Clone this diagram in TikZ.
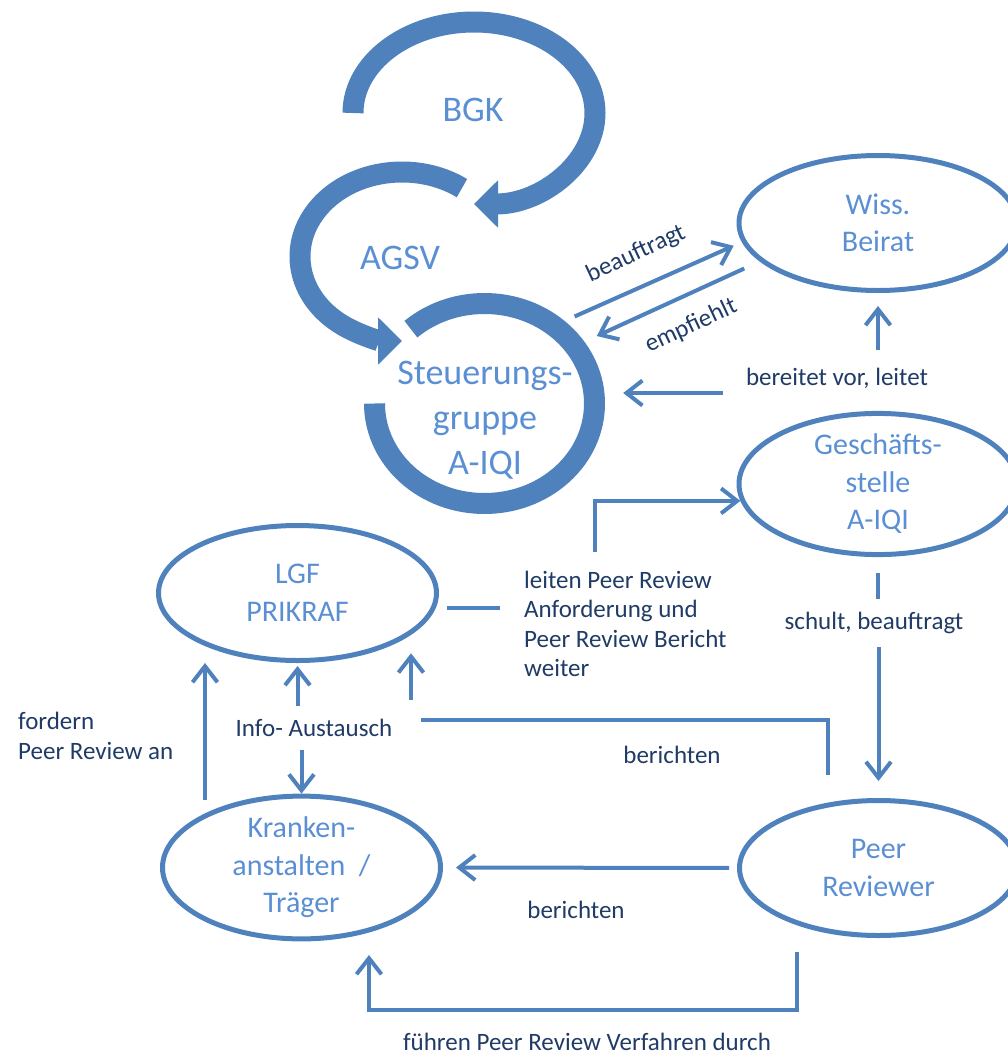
\documentclass[tikz,border=0pt]{standalone}
\usepackage{fontspec}
\setmainfont{Carlito}
\usetikzlibrary{shapes.geometric,arrows.meta}
\definecolor{ringblue}{HTML}{4F81BD}
\definecolor{nodeblue}{HTML}{5B8FD4}
\definecolor{labelblue}{HTML}{1F3B66}

\begin{document}
\begin{tikzpicture}
  [x=1pt,y=-1pt,
   every node/.style={inner sep=0pt},
   ring/.style={draw=ringblue,line width=21pt},
   ringhead/.style={ring,-{Triangle[length=24pt,width=46pt]}},
   big/.style={text=nodeblue,align=center,font=\fontsize{36}{45}\selectfont},
   part/.style={ellipse,draw=ringblue,line width=5pt,minimum width=278pt,minimum height=135pt,
     text=nodeblue,align=center,font=\fontsize{30}{37.5}\selectfont},
   lab/.style={text=labelblue,align=left,font=\fontsize{25}{29.5}\selectfont},
   gap/.style={lab,inner ysep=13pt},
   conn/.style={draw=ringblue,line width=4pt},
   arr/.style={conn,-{Straight Barb[length=16pt,width=25pt]}}]
  \useasboundingbox (0,0) rectangle (1008,1055);
  \clip (0,0) rectangle (1008,1055);

  \coordinate (bgkc) at (474,113);
  \coordinate (agsvc) at (402,256.5);
  \node[ellipse,minimum width=278pt,minimum height=228pt] (steuer) at (484.5,403.5) {};

  \draw[ringhead] (bgkc) ++(180:121 and 91) arc[start angle=180,end angle=450,x radius=121,y radius=91];
  \draw[ringhead] (agsvc) ++(-54:102 and 84.5) arc[start angle=-54,end angle=-270,x radius=102,y radius=84.5];
  \draw[ring] (steuer.center) ++(-132:110 and 100) arc[start angle=-132,end angle=180,x radius=110,y radius=100];

  \node[big] (bgk) at (473,110) {BGK};
  \node[big] (agsv) at (400,258) {AGSV};
  \node[big] (steuertext) at (485,420) {Steuerungs-\\gruppe\\A-IQI};

  \node[part] (wiss) at (878,223) {Wiss.\\Beirat};
  \node[part] (gesch) at (878,484) {Geschäfts-\\stelle\\A-IQI};
  \node[part] (lgf) at (297.5,593) {LGF\\PRIKRAF};
  \node[part] (kranken) at (301.5,867.5) {Kranken-\\anstalten\ \ /\\Träger};
  \node[part] (peer) at (878.5,868) {Peer\\Reviewer};

  \node[lab,rotate=25] (beauf) at (636,254) {beauftragt};
  \node[lab,rotate=25] (empf) at (691,326) {empfiehlt};
  \node[lab] (bereit) at (837,378) {bereitet vor, leitet};
  \node[gap] (schult) at (874,623) {schult, beauftragt};
  \node[lab,anchor=west] (leiten) at (524,624) {leiten Peer Review\\Anforderung und\\Peer Review Bericht\\weiter};
  \node[gap] (info) at (314,728) {Info- Austausch};
  \node[lab,anchor=west] (fordern) at (18,736) {fordern\\Peer Review an};
  \node[lab] (ber1) at (672,755) {berichten};
  \node[lab] (ber2) at (576,910) {berichten};
  \node[lab] (fuehren) at (587,1042) {führen Peer Review Verfahren durch};

  \coordinate (bv) at (723,393);
  \coordinate (bu) at (878,350);
  \coordinate (lu) at (595,552);
  \coordinate (fo) at (205,800);
  \coordinate (ru) at (411,700);
  \coordinate (bt) at (828,775);
  \coordinate (bl) at (421,720);
  \coordinate (fa) at (797,952);
  \coordinate (fb) at (369,955);

  \draw[arr,shorten >=9pt] (steuer.44) -- (wiss.188);
  \draw[arr,shorten <=17pt] (wiss.198) -- (steuer.31);
  \draw[arr] (bv) -- (bv -| steuer.4);
  \draw[arr,shorten >=13pt] (bu) -- (wiss.south);
  \draw[arr] (lu) |- (gesch.187);
  \draw[conn,shorten <=11pt,shorten >=24pt] (lgf.-6) -- (lgf.-6 -| leiten.west);
  \draw[arr] (fo) -- (fo |- lgf.south);
  \draw[arr,shorten >=3pt] (info.north -| lgf.south) -- (lgf.south);
  \draw[arr] (info.south -| kranken.north) -- (kranken.north);
  \draw[arr] (ru) -- (ru |- lgf.-40);
  \draw[conn] (bt) |- (bl);
  \draw[conn,shorten <=16pt] (gesch.south) -- (gesch.south |- schult.north);
  \draw[arr,shorten >=17pt] (schult.south -| peer.north) -- (peer.north);
  \draw[arr,shorten <=8pt,shorten >=13pt] (peer.west) -- (kranken.east);
  \draw[arr] (fa) -- ++(0,58) -| (fb);
\end{tikzpicture}
\end{document}
